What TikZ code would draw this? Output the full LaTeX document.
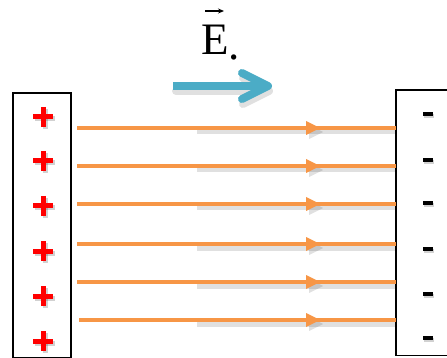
\documentclass[tikz,border=0pt]{standalone}
\usepackage{fontspec}
\newfontfamily\timesfont{Liberation Serif}
\usetikzlibrary{calc,arrows.meta}
\definecolor{fieldorange}{HTML}{F79646}
\definecolor{eblue}{HTML}{4BACC6}
\tikzset{
  plate/.style={draw=black, line width=1.6pt, inner sep=0pt},
  fieldline/.style={fieldorange, line width=4.5pt},
  fieldshadow/.style={black, opacity=0.12, line width=5pt},
  plusstroke/.style={red, line width=5pt},
  minusstroke/.style={black, line width=4.5pt},
  signshadow/.style={black, opacity=0.18},
  bluearrow/.style={eblue, line width=8pt, line join=round},
}
\begin{document}
\begin{tikzpicture}[x=1pt,y=-1pt]
\useasboundingbox (0,0) rectangle (447,358);
% plates
\node[plate, anchor=north west, minimum width=58pt, minimum height=265pt] (pos) at (12,92) {};
\node[inner sep=0pt, anchor=north west, minimum width=60pt, minimum height=265pt] (neg) at (396,90) {};
\draw[line width=1.6pt] (neg.north east) -- (neg.north west) -- (neg.south west) -- (neg.south east);
% charges
\foreach \i/\y in {1/117,2/161,3/206,4/251,5/296,6/341}{
  \coordinate (p\i) at (43,\y);
  \draw[signshadow, line width=5pt] ($(p\i)+(-8,2)$) -- ++(20,0);
  \draw[signshadow, line width=5pt] ($(p\i)+(2,-8)$) -- ++(0,20);
  \draw[plusstroke] ($(p\i)+(-10,0)$) -- ++(20,0);
  \draw[plusstroke] ($(p\i)+(0,-10)$) -- ++(0,20);
}
\foreach \i/\y in {1/114,2/160,3/203,4/249,5/294,6/338}{
  \coordinate (m\i) at (428,\y);
  \draw[signshadow, line width=4.5pt] ($(m\i)+(-4,2)$) -- ++(10,0);
  \draw[minusstroke] ($(m\i)+(-5,0)$) -- ++(10,0);
}
% field lines
\foreach \i/\y/\x in {1/128/77,2/166/77,3/204/77,4/244/77,5/282/77,6/320/79}{
  \coordinate (s\i) at (\x,\y);
  \coordinate (e\i) at (396,\y);
  \draw[fieldshadow] (197,\y+4) -- (e\i |- 0,\y+4);
  \fill[black, opacity=0.12] (309,\y-3) -- (323,\y+4) -- (309,\y+11) -- cycle;
  \draw[fieldline] (s\i) -- (e\i);
  \fill[fieldorange] (306,\y-7) -- (320,\y) -- (306,\y+7) -- cycle;
}
% E label
\node[inner sep=0pt, anchor=base west, font=\timesfont\fontsize{45}{45}\selectfont] (E) at (201,55) {E};
\node[inner sep=0pt, anchor=base west, font=\timesfont\fontsize{45}{45}\selectfont] (dot) at (228,60) {.};
\draw[line width=1.2pt, -{Stealth[length=6pt,width=5pt]}] ($(E.base west)+(4,-44)$) -- ($(E.base west)+(23,-44)$);
% blue arrow
\coordinate (ba) at (173,86);
\coordinate (bb) at (268,86);
\draw[black, opacity=0.12, line width=8pt, line join=round, line cap=round] (176,91) -- (268,91) (243,78) -- (269,91) -- (243,104);
\draw[bluearrow] (ba) -- ($(bb)+(-4,0)$);
\draw[bluearrow, line cap=round] (242,73) -- (bb) -- (242,99);
\end{tikzpicture}
\end{document}
